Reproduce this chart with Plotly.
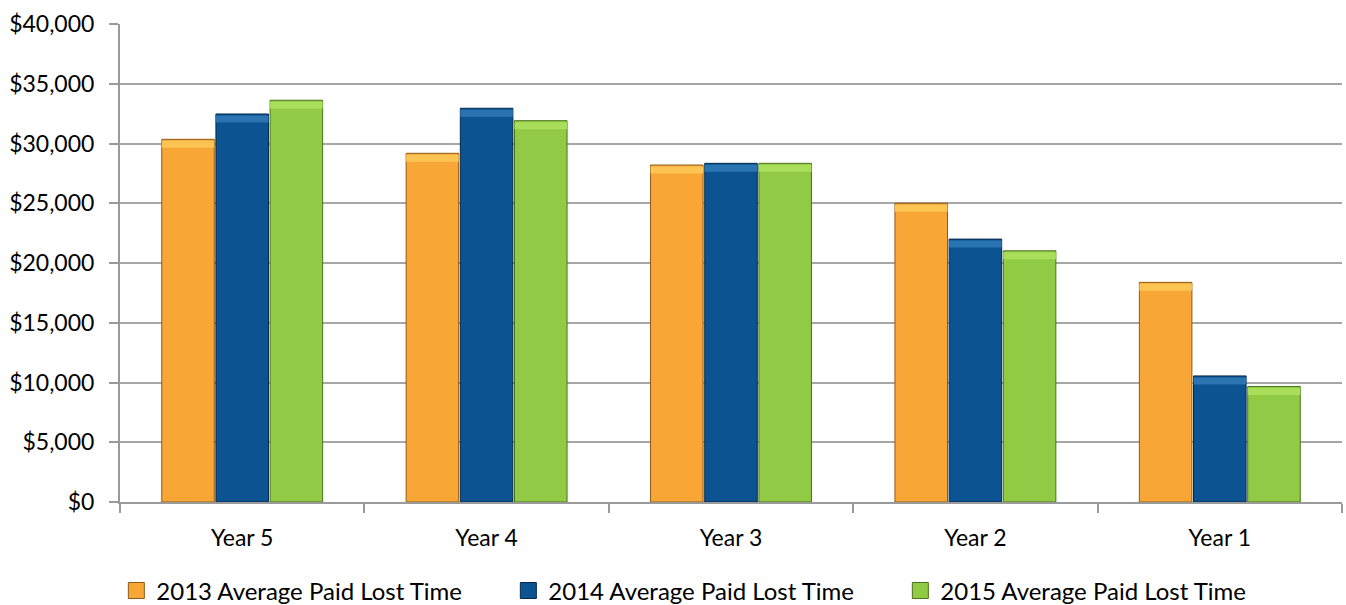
import plotly.graph_objects as go

categories = ["Year 5", "Year 4", "Year 3", "Year 2", "Year 1"]
series_names = [
    "2013 Average Paid Lost Time",
    "2014 Average Paid Lost Time",
    "2015 Average Paid Lost Time",
]
values_2013 = [30350, 29180, 28200, 25000, 18380]
values_2014 = [32470, 32950, 28340, 22000, 10550]
values_2015 = [33620, 31910, 28340, 21020, 9670]

fill_colors = ["#F8A737", "#0B5391", "#91CB45"]
edge_colors = ["#8F5A16", "#05294A", "#4A731C"]
glow_colors = ["#FCC553", "#2A74B2", "#A8DE5A"]

FONT = "Lato"
Y_MAX = 40000
PX = Y_MAX / 478  # axis units per pixel of plot height
# light bevel band just under the top edge of each bar
BEVEL_TOP = 1.5 * PX
BEVEL_H = 7 * PX

fig = go.Figure()
for i, (name, vals, fc, ec, gc) in enumerate(zip(
        series_names, [values_2013, values_2014, values_2015],
        fill_colors, edge_colors, glow_colors)):
    group = f"g{i}"
    fig.add_trace(go.Bar(
        x=categories, y=vals, name=name, offsetgroup=group,
        marker=dict(color=fc, line=dict(color=ec, width=1)),
        showlegend=False,
    ))
    fig.add_trace(go.Bar(
        x=categories, y=[BEVEL_H] * len(vals),
        base=[v - BEVEL_TOP - BEVEL_H for v in vals],
        offsetgroup=group, hoverinfo="skip",
        marker=dict(color=gc, line=dict(width=0)),
        showlegend=False,
    ))
    # legend entry with a larger square swatch
    fig.add_trace(go.Scatter(
        x=[None], y=[None], mode="markers", name=name,
        marker=dict(symbol="square", size=16, color=fc, line=dict(color=ec, width=1)),
        showlegend=True,
    ))

fig.update_layout(
    width=1346, height=605,
    margin=dict(l=120, r=4, t=24, b=103, autoexpand=False),
    paper_bgcolor="white", plot_bgcolor="white",
    barmode="group", bargap=0.335, bargroupgap=0.03,
    font=dict(family=FONT, size=23, color="#000000"),
    legend=dict(
        orientation="h", x=-0.003, xanchor="left", y=-0.186, yanchor="middle",
        font=dict(family=FONT, size=24, color="#000000"),
        entrywidth=347, entrywidthmode="pixels",
        itemclick=False, tracegroupgap=0,
    ),
    xaxis=dict(
        type="category",
        showline=True, linecolor="#9a9a9a", linewidth=2,
        ticks="outside", tickson="boundaries", ticklen=9, tickcolor="#9a9a9a", tickwidth=2,
        showgrid=False, ticklabelstandoff=14,
        tickfont=dict(family=FONT, size=23),
    ),
    yaxis=dict(
        range=[0, Y_MAX], dtick=5000, tickprefix="$", tickformat=",",
        showline=True, linecolor="#9a9a9a", linewidth=2,
        ticks="outside", ticklen=9, tickcolor="#9a9a9a", tickwidth=2,
        showgrid=True, gridcolor="#a6a6a6", gridwidth=2,
        zeroline=False, ticklabelstandoff=10,
        tickfont=dict(family=FONT, size=23),
    ),
)

fig.write_html("out.html")
